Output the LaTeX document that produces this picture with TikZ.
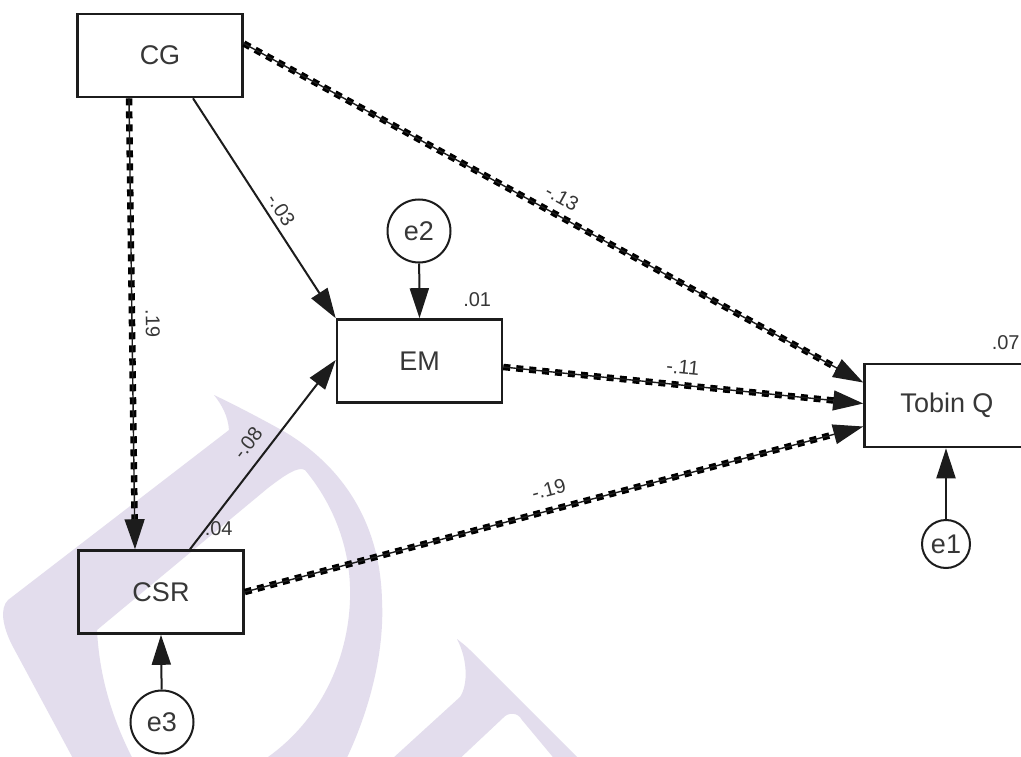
\documentclass[tikz,border=0pt]{standalone}
\usepackage{fontspec}
\setmainfont{Liberation Sans}
\usetikzlibrary{arrows.meta,calc}
\definecolor{wm}{RGB}{227,221,237}
\definecolor{ink}{RGB}{28,28,28}
\definecolor{txt}{RGB}{55,55,55}
\tikzset{
  var/.style={draw=ink, line width=2.6pt, minimum width=165pt, minimum height=83pt,
    inner sep=0pt, font=\fontsize{27}{27}\selectfont, text=txt},
  err/.style={circle, draw=ink, line width=2pt, minimum size=63pt, inner sep=0pt,
    font=\fontsize{27}{27}\selectfont, text=txt},
  solidarr/.style={draw=ink, line width=2pt, -{Triangle[length=30pt,width=19pt]}},
  thinarr/.style={draw=ink, line width=1.4pt, -{Triangle[length=30pt,width=20pt]}},
  squaredash/.style={draw=black, line width=6.5pt, dash pattern=on 7pt off 6pt, shorten >=26pt},
  lab/.style={font=\fontsize{20}{20}\selectfont, text=txt, inner sep=0pt},
}
\begin{document}
\begin{tikzpicture}[x=1pt,y=-1pt]
\useasboundingbox (0,0) rectangle (1021,757);
\fill[white] (0,0) rectangle (1021,757);
% watermark
\fill[wm, even odd rule]
  (214,395) .. controls (222,405) and (228,416) .. (229,430)
  -- (8,600) .. controls (0,608) and (2,625) .. (12,645) -- (90,790) -- (330,790)
  .. controls (365,730) and (385,660) .. (382,600)
  .. controls (380,520) and (340,465) .. (285,432)
  .. controls (260,418) and (235,405) .. (214,395) -- cycle
  (97,630) -- (268,488) .. controls (285,475) and (298,466) .. (305,470)
  .. controls (330,500) and (352,545) .. (350,600)
  .. controls (348,660) and (320,720) .. (268,757) -- (240,790) -- (150,790)
  .. controls (120,740) and (100,690) .. (97,630) -- cycle;
\fill[wm] (457,639) .. controls (462,643) and (466,646) .. (470,650) -- (600,780) -- (572,780)
  -- (522,720) .. controls (518,712) and (508,712) .. (503,718) -- (437,780) -- (369,780)
  -- (460,697) .. controls (468,685) and (468,660) .. (457,639) -- cycle;

% nodes
\node[var] (CG)  at (160,55.5) {CG};
\node[var] (EM)  at (419.5,361) {EM};
\node[var] (CSR) at (161,592) {CSR};
\node[var] (TQ)  at (947,405.5) {Tobin Q};
\node[err] (e2) at (419,231) {e2};
\node[err] (e3) at (162,722) {e3};
\node[err, minimum size=48pt] (e1) at (946,544) {e1};

\node[lab, anchor=south east] (r01) at ([xshift=-12pt,yshift=11pt]EM.north east) {.01};
\node[lab, anchor=south east] (r04) at ([xshift=-12pt,yshift=13pt]CSR.north east) {.04};
\node[lab, anchor=south east] (r07) at ([xshift=-11pt,yshift=13pt]TQ.north east) {.07};

% error arrows
\draw[solidarr] (e2) -- (EM.north);
\draw[solidarr] (e3) -- (CSR.south);
\draw[solidarr] (e1) -- (e1.north |- TQ.south);

% solid paths
\draw[solidarr] ([xshift=33pt]CG.south) -- (EM.north west)
  node[lab, sloped, pos=0.54, above=5pt] (l03) {-.03};
\draw[solidarr] ([xshift=29pt]CSR.north) -- ([yshift=1pt]EM.west)
  node[lab, sloped, pos=0.5, above=11pt] (l08) {-.08};

% dashed paths
\draw[squaredash] ([xshift=-31pt]CG.south) -- ([xshift=-26pt]CSR.north);
\draw[thinarr] ([xshift=-31pt]CG.south) -- ([xshift=-26pt]CSR.north)
  node[lab, sloped, pos=0.5, above=13pt] (l19a) {.19};

\draw[squaredash] ([yshift=12pt]CG.east) -- ([yshift=23pt]TQ.west);
\draw[thinarr] ([yshift=12pt]CG.east) -- ([yshift=23pt]TQ.west)
  node[lab, sloped, pos=0.5, above=10pt] (l13) {-.13};

\draw[squaredash] ([yshift=-6pt]EM.east) -- ([yshift=2pt]TQ.west);
\draw[thinarr] ([yshift=-6pt]EM.east) -- ([yshift=2pt]TQ.west)
  node[lab, sloped, pos=0.494, above=10pt] (l11) {-.11};

\draw[squaredash] (CSR.east) -- ([yshift=-21pt]TQ.west);
\draw[thinarr] (CSR.east) -- ([yshift=-21pt]TQ.west)
  node[lab, sloped, pos=0.5, above=13pt] (l19b) {-.19};
\end{tikzpicture}
\end{document}
